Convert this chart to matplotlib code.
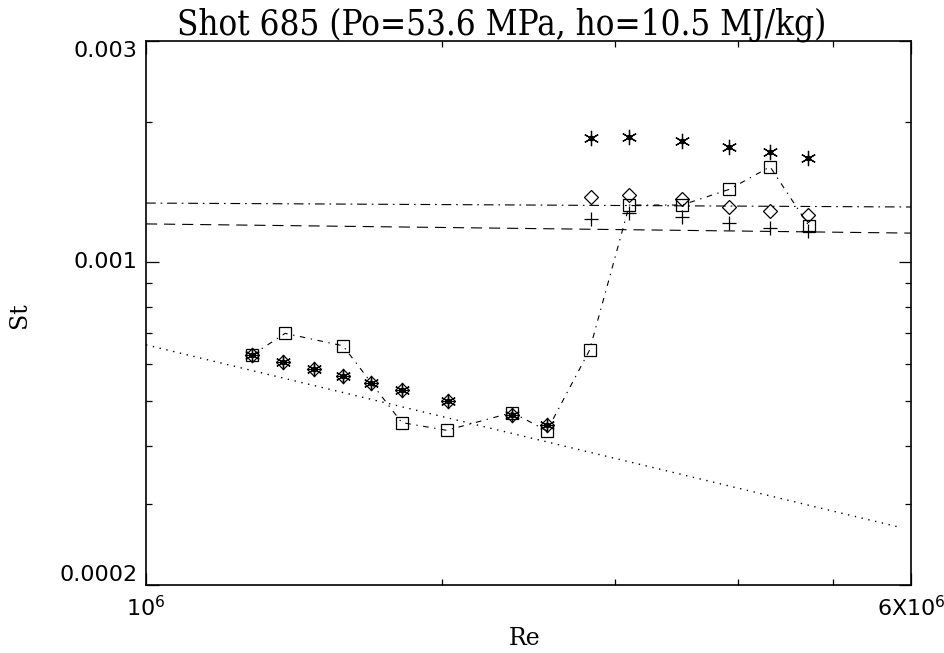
import numpy as np
import matplotlib
matplotlib.use("Agg")
import matplotlib.pyplot as plt
from matplotlib.ticker import FixedLocator, NullFormatter

plt.rcParams.update({
    "font.family": "DejaVu Sans",
    "lines.scale_dashes": False,
})

# gauge positions (Re) shared by the asterisk / diamond / plus series
re_pts = [1.283e6, 1.379e6, 1.483e6, 1.585e6, 1.693e6, 1.820e6, 2.026e6,
          2.358e6, 2.557e6, 2.835e6, 3.102e6, 3.510e6, 3.918e6, 4.313e6, 4.714e6]

# low Re: all three series sit on the same value
st_low = [0.000629, 0.000606, 0.000586, 0.000566, 0.000548, 0.000528,
          0.000500, 0.000466, 0.000443]
star_hi = [0.001854, 0.001863, 0.001823, 0.001772, 0.001723, 0.001673]
diamond_hi = [0.001382, 0.001393, 0.001364, 0.001315, 0.001287, 0.001262]
plus_hi = [0.001237, 0.001272, 0.001251, 0.001211, 0.001181, 0.001167]

st_star = st_low + star_hi
st_diamond = st_low + diamond_hi
st_plus = st_low + plus_hi

# measured values (squares)
sq_re = [1.283e6, 1.385e6, 1.586e6, 1.820e6, 2.022e6, 2.358e6, 2.557e6,
         2.826e6, 3.102e6, 3.508e6, 3.918e6, 4.313e6, 4.725e6]
sq_st = [0.000629, 0.000700, 0.000658, 0.000449, 0.000432, 0.000472, 0.000431,
         0.000644, 0.001326, 0.001326, 0.001433, 0.001604, 0.001194]

# reference lines, end points
line_re = [1e6, 6e6]
turb1_st = [0.001339, 0.001313]     # dash-dot
turb2_st = [0.001207, 0.001153]     # dashed
lam_re = [1e6, 5.87e6]
lam_st = [0.000661, 0.000266]       # dotted

fig = plt.figure(figsize=(9.44, 6.53), dpi=100)
ax = fig.add_axes([0.1547, 0.1041, 0.8104, 0.8331])

ax.set_xscale("log")
ax.set_yscale("log")

ax.plot(line_re, turb1_st, color="black", lw=0.8, linestyle=(0, (7, 3.5, 1.2, 3.5)))
ax.plot(line_re, turb2_st, color="black", lw=0.8, linestyle=(0, (8, 5)))
ax.plot(lam_re, lam_st, color="black", lw=1.0, linestyle=(0, (1, 4)))

ax.plot(sq_re, sq_st, color="black", lw=0.8, linestyle=(0, (4, 4, 1, 4)),
        marker="s", ms=9, mfc="none", mec="black", mew=0.9)

ax.plot(re_pts, st_diamond, linestyle="none", marker="D", ms=7.5,
        mfc="none", mec="black", mew=0.9)
ax.plot(re_pts, st_plus, linestyle="none", marker="+", ms=10,
        mec="black", mew=0.9)
ax.plot(re_pts, st_star, linestyle="none", marker=(6, 2, 0), ms=11,
        mec="black", mew=0.9)
ax.plot(re_pts, st_star, linestyle="none", marker="o", ms=3,
        mfc="black", mec="black")

ax.set_xlim(1e6, 6e6)
ax.set_ylim(0.0002, 0.003)

# x ticks
ax.xaxis.set_major_locator(FixedLocator([1e6, 6e6]))
ax.set_xticklabels([r"$10^6$", r"6X$10^6$"])
ax.xaxis.set_minor_locator(FixedLocator([2e6, 3e6, 4e6, 5e6]))
ax.xaxis.set_minor_formatter(NullFormatter())

# y ticks
ax.yaxis.set_major_locator(FixedLocator([0.0002, 0.001, 0.003]))
ax.set_yticklabels(["0.0002", "0.001", "0.003"])
ax.yaxis.set_minor_locator(FixedLocator([0.0003, 0.0004, 0.0005, 0.0006, 0.0007,
                                         0.0008, 0.0009, 0.002]))
ax.yaxis.set_minor_formatter(NullFormatter())

ax.tick_params(which="both", direction="in", top=True, right=True,
               width=0.9, labelsize=16, color="black")
ax.tick_params(which="major", length=9)
ax.tick_params(which="minor", length=4)
ax.tick_params(axis="y", which="major", pad=6)
ax.tick_params(axis="x", which="major", pad=7)

for lbl, va in zip(ax.get_yticklabels(), ["bottom", "center", "top"]):
    lbl.set_verticalalignment(va)

for s in ax.spines.values():
    s.set_linewidth(1.2)

ax.text(0.465, 1.012, "Shot 685 (Po=53.6 MPa, ho=10.5 MJ/kg)",
        transform=ax.transAxes, ha="center", va="baseline",
        family="DejaVu Serif", fontstretch="condensed", fontsize=25)

ax.set_ylabel("St", family="DejaVu Serif", fontsize=17)
ax.yaxis.set_label_coords(-0.150, 0.496)
ax.set_xlabel("Re", family="DejaVu Serif", fontsize=17)
ax.xaxis.set_label_coords(0.495, -0.078)

fig.savefig("out.png", dpi=100)
